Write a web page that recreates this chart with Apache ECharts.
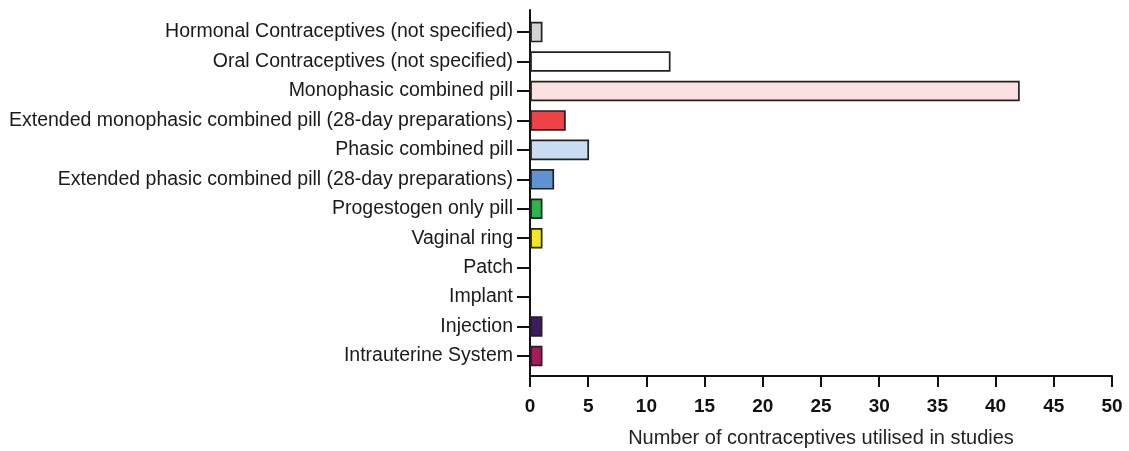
<!DOCTYPE html>
<html>
<head>
<meta charset="utf-8">
<script src="https://cdn.jsdelivr.net/npm/echarts@6/dist/echarts.min.js"></script>
<style>html,body{margin:0;padding:0;background:#fff}#c{width:1129px;height:451px}</style>
</head>
<body>
<div id="c"></div>
<script>
const categories = [
  'Hormonal Contraceptives (not specified)',
  'Oral Contraceptives (not specified)',
  'Monophasic combined pill',
  'Extended monophasic combined pill (28-day preparations)',
  'Phasic combined pill',
  'Extended phasic combined pill (28-day preparations)',
  'Progestogen only pill',
  'Vaginal ring',
  'Patch',
  'Implant',
  'Injection',
  'Intrauterine System'
];
const counts = [1, 12, 42, 3, 5, 2, 1, 1, 0, 0, 1, 1];
const barColors = ['#d4d4d4', '#ffffff', '#fde0e2', '#ee4247', '#c9def3', '#5e92d2', '#2fb44c', '#f3e81c', '#cccccc', '#cccccc', '#3c1b5f', '#a51b5b'];
const xTicks = [0, 5, 10, 15, 20, 25, 30, 35, 40, 45, 50];
const axisTitle = 'Number of contraceptives utilised in studies';

const idx = categories.map((_, i) => i);
const FONT = '"Liberation Sans", Arial, sans-serif';

const chart = echarts.init(document.getElementById('c'), null, {renderer: 'canvas'});
chart.setOption({
  backgroundColor: '#ffffff',
  animation: false,
  grid: {left: 530, right: 17, top: 10, bottom: 75, containLabel: false, outerBoundsMode: 'none'},
  xAxis: {
    type: 'value',
    min: xTicks[0], max: xTicks[xTicks.length - 1], interval: 5,
    splitLine: {show: false},
    axisLine: {onZero: false, lineStyle: {color: '#111', width: 2}},
    axisTick: {show: true, length: 11, lineStyle: {color: '#111', width: 2}},
    axisLabel: {color: '#111', fontFamily: FONT, fontSize: 19, fontWeight: 'bold', margin: 21},
    name: axisTitle,
    nameLocation: 'middle',
    nameGap: 52,
    nameTextStyle: {color: '#222', fontFamily: FONT, fontSize: 20}
  },
  yAxis: {
    type: 'value',
    inverse: true,
    min: -0.75, max: 11.68,
    splitLine: {show: false},
    axisLine: {onZero: false, lineStyle: {color: '#111', width: 2}},
    axisTick: {show: true, length: 13, customValues: idx, lineStyle: {color: '#111', width: 2}},
    axisLabel: {
      customValues: idx,
      formatter: v => categories[Math.round(v)],
      color: '#1a1a1a', fontFamily: FONT, fontSize: 19.5, margin: 17
    }
  },
  series: [{
    type: 'custom',
    data: counts.map((v, i) => [v, i]),
    renderItem: function (params, api) {
      const val = api.value(0), i = api.value(1);
      if (!val) return null;
      const p0 = api.coord([0, i]);
      const p1 = api.coord([val, i]);
      const h = Math.abs(api.size([0, 0.64])[1]);
      return {
        type: 'rect',
        shape: {x: p0[0] + 1, y: p0[1] - h / 2, width: p1[0] - p0[0] - 1, height: h},
        style: {fill: barColors[i], stroke: '#222', lineWidth: 1.7}
      };
    }
  }]
});
</script>
</body>
</html>
